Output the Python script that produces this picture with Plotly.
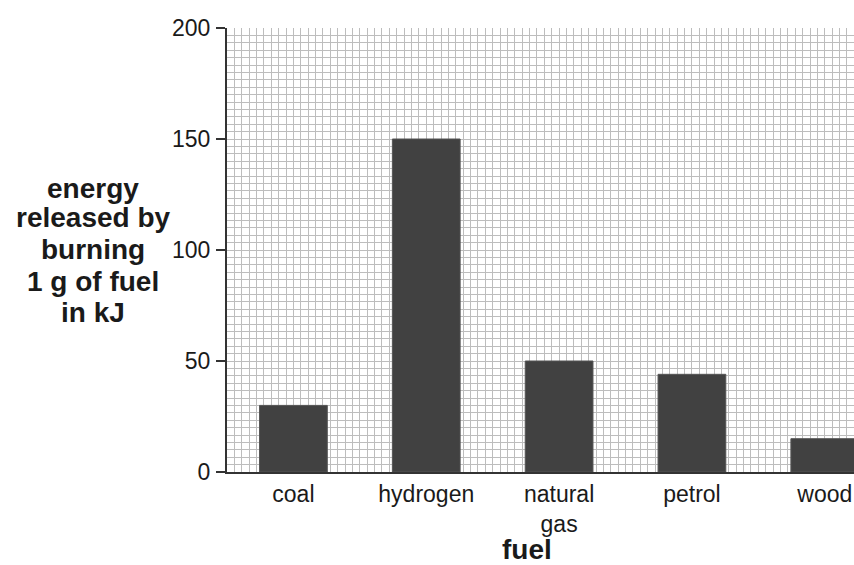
import plotly.graph_objects as go

fuels = ["coal", "hydrogen", "natural<br>gas", "petrol", "wood"]
energy_kj = [30, 150, 50, 44, 15]
y_ticks = [0, 50, 100, 150, 200]
y_title_lines = ["energy", "released by", "burning", "1 g of fuel", "in kJ"]
x_title = "fuel"

xpos = list(range(len(fuels)))

PL, PR, PT, PB = 227, 854, 28, 472   # plot area in page pixels
W, H = 854, 565

fig = go.Figure()
fig.add_trace(go.Bar(
    x=xpos, y=energy_kj, width=0.51,
    marker=dict(color="#414141", line=dict(color="#555555", width=1)),
    showlegend=False, hoverinfo="skip",
))

grid_col = "#bdbdbd"
fig.update_layout(
    width=W, height=H,
    margin=dict(l=PL, r=W - PR, t=PT, b=H - PB),
    paper_bgcolor="white", plot_bgcolor="white",
    font=dict(family="Liberation Sans, Arial, sans-serif", size=23, color="#1a1a1a"),
    xaxis=dict(
        type="linear", range=[-0.5, 4.22],
        tickvals=xpos, ticktext=fuels, ticks="",
        showgrid=True, gridcolor=grid_col, gridwidth=1,
        minor=dict(dtick=1/18, tick0=-0.5, showgrid=True, gridcolor=grid_col, gridwidth=1, ticks=""),
        showline=True, linecolor="#333333", linewidth=2,
        zeroline=False, ticklabelstandoff=0,
        tickfont=dict(size=23),
    ),
    yaxis=dict(
        range=[0, 200], tickvals=y_ticks,
        ticks="outside", ticklen=9, tickwidth=2, tickcolor="#333333",
        showgrid=True, gridcolor=grid_col, gridwidth=1,
        minor=dict(dtick=10/3, tick0=0, showgrid=True, gridcolor=grid_col, gridwidth=1, ticks=""),
        showline=True, linecolor="#333333", linewidth=2,
        zeroline=False, tickfont=dict(size=23), ticklabelstandoff=1,
    ),
)

pw, ph = PR - PL, PB - PT

# y-axis title lines (bold, centred)
y_centres = [188, 218, 249, 281, 312]
for txt, yc in zip(y_title_lines, y_centres):
    fig.add_annotation(
        text=f"<b>{txt}</b>", xref="paper", yref="paper",
        x=(93 - PL) / pw, y=(PB - yc) / ph,
        xanchor="center", yanchor="middle", showarrow=False,
        font=dict(size=28, color="#1a1a1a"),
    )

fig.add_annotation(
    text=f"<b>{x_title}</b>", xref="paper", yref="paper",
    x=(527 - PL) / pw, y=(PB - 549) / ph,
    xanchor="center", yanchor="middle", showarrow=False,
    font=dict(size=28, color="#1a1a1a"),
)

fig.write_html(
    "out.html",
    config={"displayModeBar": False, "staticPlot": True},
    post_script="document.body.style.margin='0';document.body.style.overflow='hidden';",
)
